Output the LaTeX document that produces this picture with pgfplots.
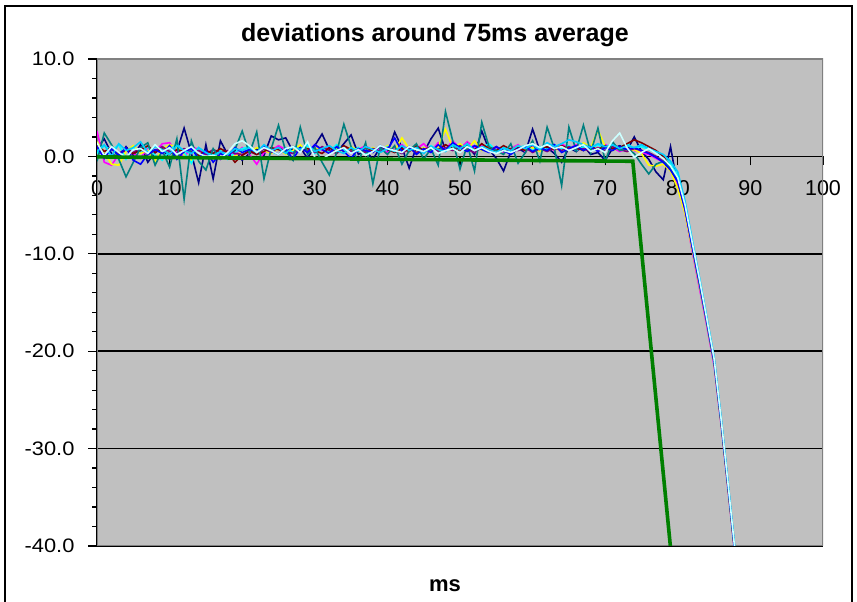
\documentclass[border=0pt]{standalone}
\usepackage{pgfplots}
\usepackage{pgfplotstable}
\pgfplotsset{compat=1.18}
\usepackage{fontspec}
\setmainfont{Liberation Sans}
\newfontfamily\yfont{Liberation Sans}[FakeStretch=1.12]
\definecolor{plotgray}{HTML}{C0C0C0}
\definecolor{bordgray}{HTML}{808080}
\definecolor{cNavy}{HTML}{000080}
\definecolor{cMag}{HTML}{FF00FF}
\definecolor{cYel}{HTML}{FFFF00}
\definecolor{cCyan}{HTML}{00FFFF}
\definecolor{cPurp}{HTML}{800080}
\definecolor{cMar}{HTML}{800000}
\definecolor{cTeal}{HTML}{008080}
\definecolor{cBlue}{HTML}{0000FF}
\definecolor{cSky}{HTML}{00CCFF}
\definecolor{cLc}{HTML}{CCFFFF}
\definecolor{cGreen}{HTML}{008000}

\pgfplotstableread{
x  nv   mg   ye   cy   pu   mr   tl   bl   sk   lc
0  0.8  2.6  1.5  0.3  0.9  1.2 -0.5  1.0  0.5  1.4
1  1.8 -0.6  0.4  1.1  0.2  0.5  2.4 -0.2  1.2  0.1
2  0.3 -0.9 -0.8  0.6  0.7  0.9  1.2  0.8  0.0  1.0
3 -0.2  0.2 -0.9  1.2  0.3  0.2 -0.3  0.1  1.3  0.4
4  1.0  0.6  0.5 -0.3  0.8  0.7 -2.1  0.9  0.6 -0.1
5  0.1  0.3  1.1  0.8  0.4  0.3 -0.6 -0.4  0.9  0.7
6  1.2 -0.2  0.3  0.5  0.9  0.6  0.9 -0.8  1.5  0.8
7 -0.6  0.9  0.6  1.0  0.2  1.1  1.4  0.2  0.4  0.3
8  0.4  0.5 -0.5  0.1  0.6  0.4 -0.9  0.7  1.0  1.2
9  0.9  1.3  0.8 -0.4  1.0  0.8  0.6  0.3  0.7  0.5
10 -0.3 1.4  1.2  0.6  0.5  0.2 -1.1  1.1  0.2  0.9
11 0.5  0.4  0.9  1.3  0.3  0.7  1.8 -0.3  1.1  0.2
12 2.9 -0.1  0.2  0.4  0.8  0.5 -4.4  0.5  0.6  0.6
13 0.3  1.0 -0.4 -0.7  0.4  0.9  1.6  0.8  0.3  1.0
14 -2.7 0.7  0.1  0.9  0.6  0.1 -0.5 -0.2  0.9  0.3
15 1.2  0.2  0.5  0.3  0.2  0.6 -1.4  0.6  0.4  0.0
16 -2.3 0.4 -0.2  0.2  0.7  0.3  0.8 -0.6  0.0  0.1
17 1.6 -0.3  0.3  0.6  0.4  0.8 -0.3  0.3  0.5 -0.2
18 0.2  0.5  0.1 -0.3  0.6  0.4  0.2 -0.1  0.2  0.4
19 0.6  0.2  0.0  0.4  0.3 -0.6  0.7  0.9  0.8  1.3
20 -0.4 0.9  0.5  0.8  0.2  0.1  2.6  0.4  0.6  1.6
21 0.3  0.2  0.4  1.0  0.5  0.6  0.3  0.7  0.9  1.1
22 0.8 -0.8  0.9  0.3  0.2  0.2  2.5  0.5  0.4  0.4
23 0.1  0.4  0.6  0.7  0.8  0.5 -2.3  1.0  1.2  0.9
24 2.1  0.6  0.3  0.5  0.4  0.9  0.8  0.6  0.6  0.6
25 1.7  1.1  0.8  0.2  0.9  0.7  3.2  0.2  0.9  0.2
26 1.9  0.7  0.2  0.9  0.5  0.4  0.5  0.8  0.3  0.8
27 0.5  0.3  0.6  0.4  0.3  1.0 -0.4 -0.3  1.0  1.0
28 0.9  0.8  1.2  0.6  0.8  0.5  3.0  0.9  0.7  0.4
29 -0.2 0.5  0.4  1.1  0.6  0.8  0.2  0.4  1.3  1.5
30 1.1  1.2  0.7  0.3  0.4  0.6  0.9  1.2  0.5 -0.1
31 2.3  0.6  0.9  0.8  1.0  0.3 -0.6  0.7  0.8 -0.3
32 0.7  1.0  0.3  0.5  0.6  0.9 -1.9  0.3  1.1  0.2
33 0.4  0.4  0.8  1.2  0.3  0.4  0.4  1.0  0.6  0.6
34 1.3  0.9  0.5  0.7  0.9  1.1  3.3  0.5  0.3  0.9
35 2.2  0.3  1.0  0.4  0.5  0.7  1.0 -0.2  0.9  0.3
36 0.2  0.7  0.6  0.9  0.7  0.5 -0.6  0.8  0.5  0.7
37 0.6  1.1  0.3  0.3  0.4  0.9  1.4  0.6  1.0  0.1
38 -0.3 0.5  0.9  0.8  0.8  0.6 -2.8  0.4  0.7  0.5
39 0.9  0.8  0.4  0.5  0.5  1.0  0.9  1.1  0.4  1.1
40 0.3  0.4  1.1  1.0  0.9  0.7  0.2  0.7  0.8  0.8
41 2.5  0.9  0.6  0.6  0.6  0.4  1.1  1.9  0.5  0.6
42 0.9  1.2  1.9  0.3  0.3  0.8 -0.8  0.5  1.1  0.4
43 -1.2 0.6  0.8  0.9  0.8  0.5  0.6  1.0  0.6  1.0
44 1.0  0.8  0.4  0.7  0.4  1.1  1.3  0.2  0.9  0.7
45 0.4  1.3  0.9  0.4  0.7  0.6 -0.3  0.8  0.3  0.5
46 1.8  0.5  0.7  1.1  1.0  0.9  0.8  0.4  1.0  0.9
47 2.9  1.4  1.0  0.6  0.5  0.7 -0.9  1.2  0.7  0.3
48 0.6  0.7  2.8  0.8  0.9  1.2  4.6  0.6  0.5  0.6
49 1.4  1.6  0.9  1.0  0.6  0.8  1.6  1.4  1.2  0.8
50 0.5  0.8  1.3  0.5  1.1  0.5 -1.3  0.9  0.8  0.4
51 1.1  1.5  0.7  1.2  0.7  1.0  1.2  0.5  1.3  1.0
52 0.2  0.9  1.6  0.7  0.4  0.7 -1.5  1.1  0.6  0.6
53 2.6  1.1  0.6  0.9  0.9  1.3  3.5  0.7  1.0  0.9
54 0.7  0.6  1.0  1.3  0.6  0.8  1.0  0.4  0.7  0.5
55 -0.2 0.9  0.5  0.6  1.0  0.6  0.6  1.0  0.4  0.3
56 -1.5 0.4  0.9  0.8  0.5  1.1  0.2  0.6  0.9  0.6
57 0.5  0.8  0.6  0.4  0.8  0.7  1.3  0.2  0.6  0.4
58 0.8  1.2  1.1  0.9  0.6  0.9 -0.7  0.8  1.1  0.7
59 0.4  0.5  0.7  1.1  0.9  0.6  0.4  1.0  0.8  1.1
60 2.8  1.0  0.9  0.6  0.4  1.2  1.6  0.5  1.2  1.3
61 0.6  0.7  0.5  1.0  0.8  0.8 -0.5  0.9  0.7  0.9
62 0.9  1.1  1.2  0.7  0.5  1.0  3.0  0.6  1.4  1.2
63 0.3  0.6  0.8  1.2  0.9  0.7  0.8  1.2  1.0  0.8
64 -0.6 1.3  0.6  0.8  0.6  1.1 -3.0  0.4  1.3  1.0
65 0.9  0.8  1.0  1.1  1.0  0.8  3.0  0.8  1.7  0.6
66 0.5  1.2  0.7  0.6  0.7  0.9  0.6  1.1  1.5  0.9
67 1.1  0.7  1.4  1.0  0.8  0.6  3.2  0.6  1.2  1.2
68 0.2  1.0  0.9  0.8  0.5  1.0  0.4  1.0  0.9  0.5
69 0.4  0.6  2.7  1.2  0.9  0.7  2.9  0.5  1.3  0.8
70 -0.4 1.2  1.0  0.7  0.6  1.1 -0.5  0.9  1.0  0.4
71 0.8  0.9  0.6  1.1  1.0  0.8  1.5  0.6  1.2  1.6
72 1.1  0.5  0.9  0.9  0.7  0.9  0.6  1.0  0.8  2.4
73 0.6  0.8  0.5  1.3  0.5  1.3  0.8  0.7  1.1  0.9
74 2.0  0.6  0.7  0.8  0.8  1.7  0.3  0.9  0.9 -0.1
75 0.5  0.4  0.3  1.0  0.6  1.4 -0.8  0.6  1.2  0.4
76 -0.3 0.2 -0.9  0.7  0.4  1.0 -1.8  0.3  0.8  0.8
77 -1.6 -0.2 -1.0 0.4  0.0  0.6 -0.8 -0.1  0.5  0.3
78 -2.4 -0.6 -0.8 0.0 -0.5  0.0 -0.5 -0.6  0.2 -0.2
79 1.0 -1.4 -1.5 -0.8 -1.3 -1.1 -1.2 -1.4 -0.5 -1.0
80 -3.2 -2.9 -3.3 -2.0 -2.6 -2.4 -2.5 -2.6 -1.6 -2.2
81 -5.2 -5.8 -5.9 -4.9 -5.4 -5.2 -5.3 -5.5 -4.6 -5.0
82 -9.2 -9.8 -9.6 -8.9 -9.3 -9.1 -9.4 -9.3 -8.6 -8.9
83 -13.0 -13.6 -13.3 -12.7 -13.1 -12.9 -13.2 -13.0 -12.5 -12.7
84 -16.9 -17.4 -17.1 -16.7 -17.0 -16.8 -17.1 -16.9 -16.5 -16.7
85 -21.0 -21.5 -21.2 -20.8 -21.1 -20.9 -21.2 -21.0 -20.6 -20.8
86 -27.4 -27.8 -27.6 -27.2 -27.5 -27.3 -27.6 -27.4 -27.0 -27.2
87 -34.4 -34.8 -34.6 -34.2 -34.5 -34.3 -34.6 -34.4 -34.0 -34.2
88 -41.6 -42.0 -41.8 -41.4 -41.7 -41.5 -41.8 -41.6 -41.2 -41.4
}\devdata

\pgfplotstableread{
x    y
0    -0.05
73.8 -0.5
79.0 -40.2
}\avgdata

\begin{document}
\begin{tikzpicture}[x=1pt,y=1pt]
\useasboundingbox (0,0) rectangle (857,602);
\draw[line width=2pt] (5,-10) -- (5,596) -- (852,596) -- (852,-10);
\node[anchor=base,font=\bfseries\fontsize{25}{30}\selectfont] at (435,560) {deviations around 75ms average};
\node[anchor=base,font=\bfseries\fontsize{22}{26}\selectfont] at (445,10) {ms};
\begin{axis}[
  at={(97pt,56pt)}, anchor=south west,
  scale only axis, width=726pt, height=487pt,
  xmin=0, xmax=100, ymin=-40, ymax=10,
  enlargelimits=false,
  axis x line=middle, axis y line=left,
  hide obscured x ticks=false,
  axis line style={-, black, line width=1.4pt},
  axis background/.style={fill=plotgray},
  ymajorgrids, major grid style={black, line width=1.5pt},
  xtick={0,10,...,100},
  xticklabels={0,10,20,30,40,50,60,70,80,90,100},
  ytick={-40,-30,-20,-10,0,10},
  yticklabels={-40.0,-30.0,-20.0,-10.0,0.0,10.0},
  minor y tick num=4,
  tick align=outside,
  major tick length=9pt, minor tick length=5pt,
  tick style={black, line width=1.3pt},
  xticklabel style={font=\fontsize{21.5}{24}\selectfont, anchor=north, yshift=-12pt},
  yticklabel style={font=\yfont\fontsize{19.5}{22}\selectfont, anchor=east, xshift=-10pt},
  clip=true,
]
\draw[bordgray, line width=2pt] (rel axis cs:0,0) rectangle (rel axis cs:1,1);
\addplot[cNavy, line width=1.6pt] table[x=x,y=nv] {\devdata};
\addplot[cMag, line width=1.6pt] table[x=x,y=mg] {\devdata};
\addplot[cYel, line width=1.6pt] table[x=x,y=ye] {\devdata};
\addplot[cCyan, line width=1.6pt] table[x=x,y=cy] {\devdata};
\addplot[cPurp, line width=1.6pt] table[x=x,y=pu] {\devdata};
\addplot[cMar, line width=1.6pt] table[x=x,y=mr] {\devdata};
\addplot[cTeal, line width=1.6pt] table[x=x,y=tl] {\devdata};
\addplot[cBlue, line width=1.6pt] table[x=x,y=bl] {\devdata};
\addplot[cSky, line width=1.6pt] table[x=x,y=sk] {\devdata};
\addplot[cLc, line width=1.6pt] table[x=x,y=lc] {\devdata};
\addplot[cGreen, line width=3.6pt] table[x=x,y=y] {\avgdata};
\end{axis}
\end{tikzpicture}
\end{document}
